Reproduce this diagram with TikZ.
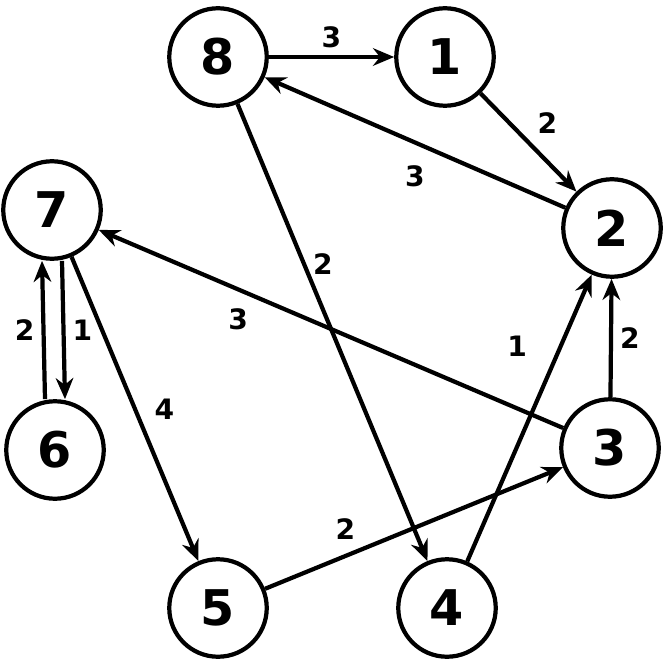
\documentclass[tikz,border=0pt]{standalone}
\usepackage{fontspec}
\setmainfont{DejaVu Sans}
\usetikzlibrary{arrows.meta, positioning}
\begin{document}
\begin{tikzpicture}[
    x=0.02cm, y=-0.02cm,
    vertex/.style={circle, draw, line width=2.4pt, minimum size=1.95cm, inner sep=0pt, font=\bfseries\fontsize{28}{28}\selectfont},
    arrow/.style={-{Stealth[length=12pt, width=10pt]}, line width=2.4pt},
    weight/.style={font=\bfseries\fontsize{16}{16}\selectfont, inner sep=4pt}
]
\useasboundingbox (0,0) rectangle (665,665);

% Vertices
\node[vertex] (n8) at (218,57) {8};
\node[vertex] (n1) at (445,57) {1};
\node[vertex] (n2) at (612,228) {2};
\node[vertex] (n7) at (52,210) {7};
\node[vertex] (n6) at (55,450) {6};
\node[vertex] (n3) at (610,448) {3};
\node[vertex] (n5) at (218,608) {5};
\node[vertex] (n4) at (447,608) {4};

% Edges
\draw[arrow] (n8) -- node[weight, above] {3} (n1);
\draw[arrow] (n1) -- node[weight, above right] {2} (n2);
\draw[arrow] (n2) -- node[weight, below, yshift=-8pt] {3} (n8);
\draw[arrow] (n8) -- node[weight, pos=0.35, right] {2} (n4);
\draw[arrow] (n4) -- node[weight, pos=0.75, left, xshift=-14pt] {1} (n2);
\draw[arrow] (n3) -- node[weight, right] {2} (n2);
\draw[arrow] (n3) -- node[weight, pos=0.7, below, yshift=-6pt] {3} (n7);
\draw[arrow] (n7) -- node[weight, right, xshift=6pt] {4} (n5);
\draw[arrow] (n5) -- node[weight, pos=0.27, above, yshift=4pt] {2} (n3);
\draw[arrow] ([xshift=-10*0.02cm]n6.north) -- node[weight, left] {2} ([xshift=-10*0.02cm]n7.south);
\draw[arrow] ([xshift=10*0.02cm]n7.south) -- node[weight, right] {1} ([xshift=10*0.02cm]n6.north);

\end{tikzpicture}
\end{document}
